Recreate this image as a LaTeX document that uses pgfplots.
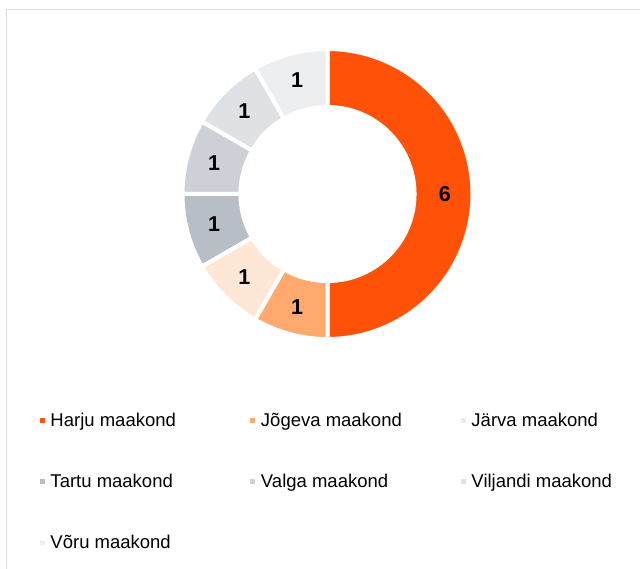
\documentclass[border=0pt]{standalone}
\usepackage{pgfplots}
\usepackage{pgfplotstable}
\pgfplotsset{compat=1.18}
\usepackage{fontspec}
\setmainfont{Liberation Sans}
\definecolor{c0}{HTML}{FF5208}
\definecolor{c1}{HTML}{FFA96F}
\definecolor{c2}{HTML}{FFE7D6}
\definecolor{c3}{HTML}{B8BEC6}
\definecolor{c4}{HTML}{CDD1D7}
\definecolor{c5}{HTML}{DFE2E5}
\definecolor{c6}{HTML}{EDEEF0}
\definecolor{frame}{HTML}{D9D9D9}

\pgfplotstableread[col sep=comma]{
label,value
Harju maakond,6
Jõgeva maakond,1
Järva maakond,1
Tartu maakond,1
Valga maakond,1
Viljandi maakond,1
Võru maakond,1
}\datatable

\begin{document}
\begin{tikzpicture}
\path[use as bounding box] (0,0) rectangle (640bp,569bp);
\draw[frame, line width=1bp] (6bp,0) -- (6bp,559bp) -- (640bp,559bp);
\begin{axis}[
  at={(327.5bp,375bp)}, anchor=center,
  scale only axis, width=290bp, height=290bp,
  xmin=-1, xmax=1, ymin=-1, ymax=1,
  hide axis, clip=false,
  legend columns=3,
  legend cell align=left,
  legend image code/.code={\fill[#1, draw=none] (0.3bp,-1.3bp) rectangle (4.9bp,3.3bp);},
  legend style={at={(-0.4914,-0.255)}, anchor=north west, draw=none, fill=none,
    inner sep=0pt, outer sep=0pt, column sep=0pt, row sep=44bp,
    font=\fontsize{18.5bp}{22bp}\selectfont,
    nodes={inner sep=0pt, text height=13.3bp, text depth=3.9bp},
    /tikz/every odd column/.append style={column sep=5.9bp}},
]
\def\total{12}
\def\cum{0}
\pgfplotsforeachungrouped \i in {0,...,6}{%
  \pgfplotstablegetelem{\i}{value}\of\datatable
  \let\v\pgfplotsretval
  \pgfplotstablegetelem{\i}{label}\of\datatable
  \let\lab\pgfplotsretval
  \pgfmathsetmacro\a{90-360*\cum/\total}%
  \pgfmathsetmacro\b{90-360*(\cum+\v)/\total}%
  \pgfmathsetmacro\m{(\a+\b)/2}%
  \pgfmathsetmacro\lx{0.81*cos(\m)}%
  \pgfmathsetmacro\ly{0.81*sin(\m)}%
  \edef\cmd{%
    \noexpand\addplot[fill=c\i, draw=white, line width=4bp, domain=\a:\b, samples=80]
      ({cos(x)},{sin(x)}) -- (axis cs:0,0) -- cycle;
    \noexpand\addlegendentry{\noexpand\makebox[200bp][l]{\lab}}
  }%
  \cmd
  \pgfmathsetmacro\cum{\cum+\v}%
}
\addplot[fill=white, draw=none, domain=-180:180, samples=181, forget plot]
  ({0.614*cos(x)},{0.614*sin(x)}) -- cycle;
\def\cum{0}
\pgfplotsforeachungrouped \i in {0,...,6}{%
  \pgfplotstablegetelem{\i}{value}\of\datatable
  \let\v\pgfplotsretval
  \pgfmathsetmacro\m{90-360*(\cum+\v/2)/\total}%
  \pgfmathsetmacro\lx{0.81*cos(\m)}%
  \pgfmathsetmacro\ly{0.81*sin(\m)}%
  \edef\cmd{%
    \noexpand\node[font=\noexpand\fontsize{21.5bp}{25bp}\noexpand\selectfont\noexpand\bfseries] at (axis cs:\lx,\ly) {\v};
  }%
  \cmd
  \pgfmathsetmacro\cum{\cum+\v}%
}
\end{axis}
\end{tikzpicture}
\end{document}
